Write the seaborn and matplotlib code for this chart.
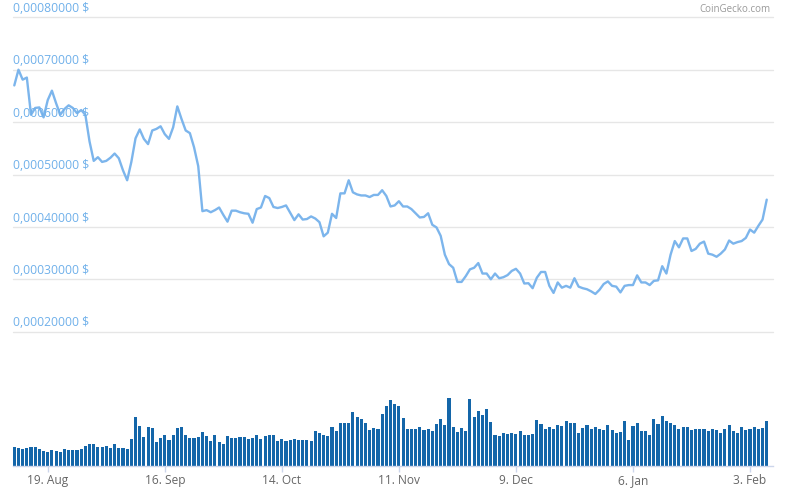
import numpy as np
import pandas as pd
import matplotlib
matplotlib.use("Agg")
import matplotlib.pyplot as plt
import matplotlib.transforms as mtransforms
import seaborn as sns

# ---------------- data ----------------
start_date = "2018-08-11"

# price in units of 1e-5 USD, one value per day
price_e5 = [
    67.0, 70.0, 68.1, 68.5, 61.4, 62.7, 62.8, 60.9, 64.2, 66.0,
    63.6, 61.4, 62.5, 63.2, 62.7, 61.7, 62.3, 61.4, 56.3, 52.6,
    53.3, 52.4, 52.6, 53.2, 54.0, 53.1, 50.8, 48.9, 52.4, 56.9,
    58.6, 56.8, 55.8, 58.4, 58.7, 59.2, 57.7, 56.8, 59.0, 63.0,
    60.6, 58.4, 57.9, 55.2, 51.6, 43.0, 43.2, 42.8, 43.2, 43.7,
    42.3, 41.0, 43.1, 43.1, 42.8, 42.6, 42.5, 40.8, 43.4, 43.7,
    45.9, 45.5, 43.8, 43.6, 43.8, 44.1, 42.7, 41.3, 42.4, 41.4,
    41.5, 42.0, 41.6, 40.9, 38.2, 38.9, 42.5, 41.7, 46.4, 46.4,
    48.9, 46.6, 46.2, 46.0, 46.0, 45.7, 46.1, 46.1, 47.0, 45.9,
    43.9, 44.1, 44.9, 43.9, 43.9, 43.4, 42.6, 41.8, 41.9, 42.6,
    40.4, 39.9, 38.3, 34.7, 32.9, 32.2, 29.5, 29.5, 30.6, 31.9,
    32.2, 33.1, 31.1, 31.1, 30.0, 31.1, 30.2, 30.4, 30.8, 31.6,
    32.0, 31.1, 29.2, 29.25, 28.3, 30.3, 31.4, 31.4, 28.75, 27.4,
    29.4, 28.4, 28.75, 28.4, 30.2, 28.6, 28.3, 28.1, 27.7, 27.2,
    28.0, 29.1, 29.6, 28.75, 28.6, 27.5, 28.75, 28.9, 28.9, 30.75,
    29.4, 29.4, 28.9, 29.7, 29.8, 32.5, 31.1, 34.7, 37.3, 36.1,
    37.8, 37.8, 35.4, 35.8, 36.8, 37.2, 34.9, 34.7, 34.3, 34.9,
    35.7, 37.4, 36.8, 37.1, 37.3, 37.9, 39.5, 38.9, 40.2, 41.4,
    45.2,
]

# daily volume (arbitrary units)
volume = [
    57, 54, 51, 54, 57, 57, 51, 45, 42, 48,
    45, 42, 51, 48, 48, 48, 51, 60, 66, 66,
    57, 57, 60, 54, 66, 54, 54, 51, 81, 147,
    120, 87, 117, 114, 72, 84, 93, 78, 93, 114,
    117, 93, 84, 84, 87, 102, 90, 75, 93, 72,
    66, 90, 84, 84, 87, 87, 81, 84, 93, 81,
    90, 93, 93, 75, 81, 75, 78, 81, 78, 78,
    78, 75, 105, 99, 93, 90, 117, 105, 129, 129,
    129, 162, 147, 141, 129, 108, 114, 111, 156, 180,
    198, 186, 180, 144, 111, 111, 111, 117, 108, 111,
    105, 126, 141, 123, 204, 117, 102, 114, 105, 201,
    147, 165, 153, 171, 132, 93, 90, 99, 96, 99,
    96, 105, 93, 93, 96, 138, 126, 111, 117, 111,
    123, 120, 135, 129, 129, 99, 114, 123, 111, 117,
    111, 108, 123, 108, 99, 102, 135, 78, 120, 129,
    105, 105, 93, 141, 126, 150, 135, 129, 123, 111,
    117, 117, 108, 111, 111, 111, 105, 111, 108, 99,
    111, 123, 105, 99, 117, 108, 111, 117, 111, 114,
    135,
]

y_ticks = [0.0002, 0.0003, 0.0004, 0.0005, 0.0006, 0.0007, 0.0008]
x_tick_dates = ["2018-08-19", "2018-09-16", "2018-10-14", "2018-11-11",
                "2018-12-09", "2019-01-06", "2019-02-03"]
watermark = "CoinGecko.com"

# ---------------- frame ----------------
dates = pd.date_range(start_date, periods=len(price_e5), freq="D")
df = pd.DataFrame({
    "idx": np.arange(len(price_e5)),
    "price": np.array(price_e5) * 1e-5,
    "volume": volume,
})

sns.set_style("white")
plt.rcParams["font.family"] = ["Open Sans", "DejaVu Sans"]

W, H = 790, 496
fig = plt.figure(figsize=(W / 100, H / 100), dpi=100)

left = 13 / W
width = 760 / W
ax1 = fig.add_axes([left, 1 - 331.7 / H, width, (331.7 - 17.3) / H])
ax2 = fig.add_axes([left, 1 - 466 / H, width, 86 / H])

xlim = (-0.31, 181.5)

# price line
sns.lineplot(data=df, x="idx", y="price", ax=ax1, color="#7cb5ec",
             linewidth=1.7)
ax1.set_xlim(*xlim)
ax1.set_ylim(0.0002, 0.0008)
ax1.set_yticks(y_ticks)
ax1.set_yticklabels([])
ax1.tick_params(left=False, bottom=False, labelbottom=False, labelleft=False)
ax1.set_xticks([])
ax1.grid(axis="y", color="#e6e6e6", linewidth=1.0)
ax1.set_axisbelow(True)
for s in ax1.spines.values():
    s.set_visible(False)
ax1.set_xlabel("")
ax1.set_ylabel("")
for gl in ax1.get_ygridlines():
    gl.set_clip_on(False)

trans = mtransforms.blended_transform_factory(ax1.transAxes, ax1.transData)
for v in y_ticks:
    lab = "0,{:08d} $".format(int(round(v * 1e8)))
    ax1.text(0.0, v + 0.0000045, lab, transform=trans, ha="left", va="bottom",
             fontsize=8.7, color="#6fb0ea")

# volume bars
sns.barplot(data=df, x="idx", y="volume", ax=ax2, native_scale=True,
            color="#1466a9", saturation=1, width=0.74, errorbar=None,
            linewidth=0, edgecolor="none")
ax2.set_xlim(*xlim)
ax2.set_ylim(0, 258)
ax2.set_yticks([])
ax2.set_xlabel("")
ax2.set_ylabel("")
for name, s in ax2.spines.items():
    s.set_visible(name == "bottom")
ax2.spines["bottom"].set_color("#ccd6eb")
ax2.spines["bottom"].set_linewidth(1.0)

tick_pos = [int((pd.Timestamp(d) - dates[0]).days) for d in x_tick_dates]
tick_lab = ["{}. {}".format(pd.Timestamp(d).day, pd.Timestamp(d).strftime("%b"))
            for d in x_tick_dates]
ax2.set_xticks(tick_pos)
ax2.set_xticklabels(tick_lab)
ax2.tick_params(axis="x", bottom=True, length=4.5, width=1, color="#ccd6eb",
                direction="out", labelsize=8.6, labelcolor="#666666", pad=1.5)

fig.text(770 / W, 1 - 4 / H, watermark, ha="right", va="top",
         fontsize=7, color="#999999")

fig.savefig("out.png", dpi=100)
